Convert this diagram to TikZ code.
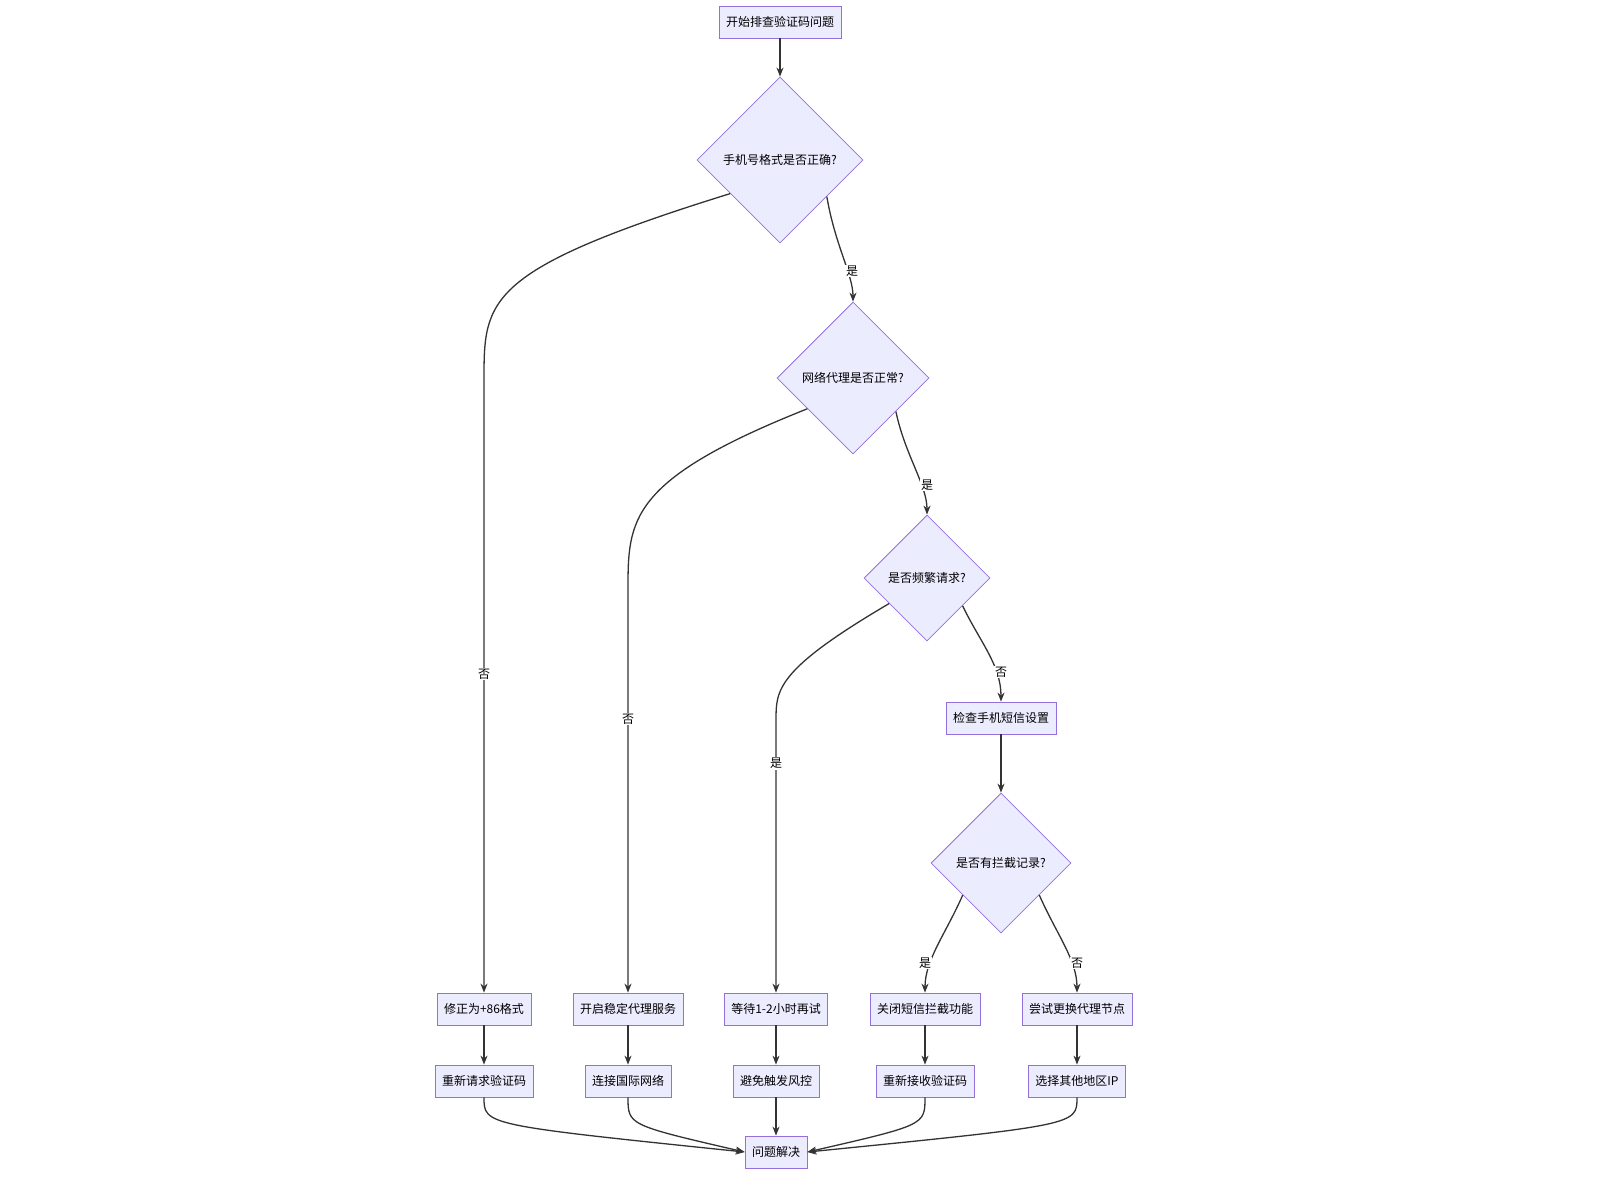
\documentclass[tikz,border=0pt]{standalone}
\usepackage{fontspec}
\setmainfont{Noto Sans CJK SC}
\usetikzlibrary{shapes.geometric,arrows.meta}
\definecolor{nfill}{HTML}{ECECFF}
\definecolor{nline}{HTML}{9370DB}
\definecolor{eline}{HTML}{333333}
\begin{document}
\begin{tikzpicture}[x=1pt,y=-1pt,
  box/.style={draw=nline,fill=nfill,line width=0.8pt,minimum height=32pt,inner xsep=7pt,font=\fontsize{12}{14}\selectfont},
  dia/.style={diamond,aspect=1,draw=nline,fill=nfill,line width=0.8pt,inner sep=0pt,font=\fontsize{12}{14}\selectfont},
  e/.style={draw=eline,line width=1.3pt,-{Stealth[length=9pt,width=7pt]}},
  el/.style={fill=white,inner sep=1pt,font=\fontsize{12}{14}\selectfont}]
\useasboundingbox (0,0) rectangle (1600,1200);
\node[box] (s) at (780,22) {开始排查验证码问题};
\node[dia,minimum size=166pt] (d1) at (780,160) {手机号格式是否正确?};
\node[dia,minimum size=152pt] (d2) at (853,378) {网络代理是否正常?};
\node[dia,minimum size=126pt] (d3) at (927,578) {是否频繁请求?};
\node[box] (c) at (1001,718) {检查手机短信设置};
\node[dia,minimum size=140pt] (d4) at (1001,863) {是否有拦截记录?};
\node[box] (a1) at (484,1009) {修正为+86格式};
\node[box] (b1) at (628,1009) {开启稳定代理服务};
\node[box] (w1) at (776,1009) {等待1-2小时再试};
\node[box] (k1) at (925,1009) {关闭短信拦截功能};
\node[box] (t1) at (1077,1009) {尝试更换代理节点};
\node[box] (a2) at (484,1081) {重新请求验证码};
\node[box] (b2) at (628,1081) {连接国际网络};
\node[box] (w2) at (776,1081) {避免触发风控};
\node[box] (k2) at (925,1081) {重新接收验证码};
\node[box] (t2) at (1077,1081) {选择其他地区IP};
\node[box] (f) at (776,1152) {问题解决};
\draw[e] (s) -- (d1);
\draw[e] (d1.214) .. controls (484,270) and (484,300) .. (484,380) -- node[el,pos=0.48]{否} (a1);
\draw[e] (d1.-38) .. controls (835,245) and (853,275) .. (d2.north);
\node[el] at (852,271) {是};
\draw[e] (d2.214) .. controls (628,480) and (628,520) .. (628,590) -- node[el,pos=0.32]{否} (b1);
\draw[e] (d2.-38) .. controls (905,455) and (927,485) .. (d3.north);
\node[el] at (927,485) {是};
\draw[e] (d3.214) .. controls (776,670) and (776,690) .. (776,720) -- node[el,pos=0.16]{是} (w1);
\draw[e] (d3.-38) .. controls (980,642) and (1001,665) .. (c.north);
\node[el] at (1001,672) {否};
\draw[e] (c) -- (d4);
\draw[e] (d4.220) .. controls (945,935) and (925,960) .. (k1.north);
\node[el] at (925,963) {是};
\draw[e] (d4.-40) .. controls (1057,935) and (1077,960) .. (t1.north);
\node[el] at (1077,963) {否};
\draw[e] (a1) -- (a2); \draw[e] (b1) -- (b2); \draw[e] (w1) -- (w2);
\draw[e] (k1) -- (k2); \draw[e] (t1) -- (t2);
\draw[e] (a2.south) .. controls (484,1125) .. (f.west);
\draw[e] (b2.south) .. controls (628,1125) .. (f.west);
\draw[e] (w2) -- (f);
\draw[e] (k2.south) .. controls (925,1125) .. (f.east);
\draw[e] (t2.south) .. controls (1077,1125) .. (f.east);
\end{tikzpicture}
\end{document}
